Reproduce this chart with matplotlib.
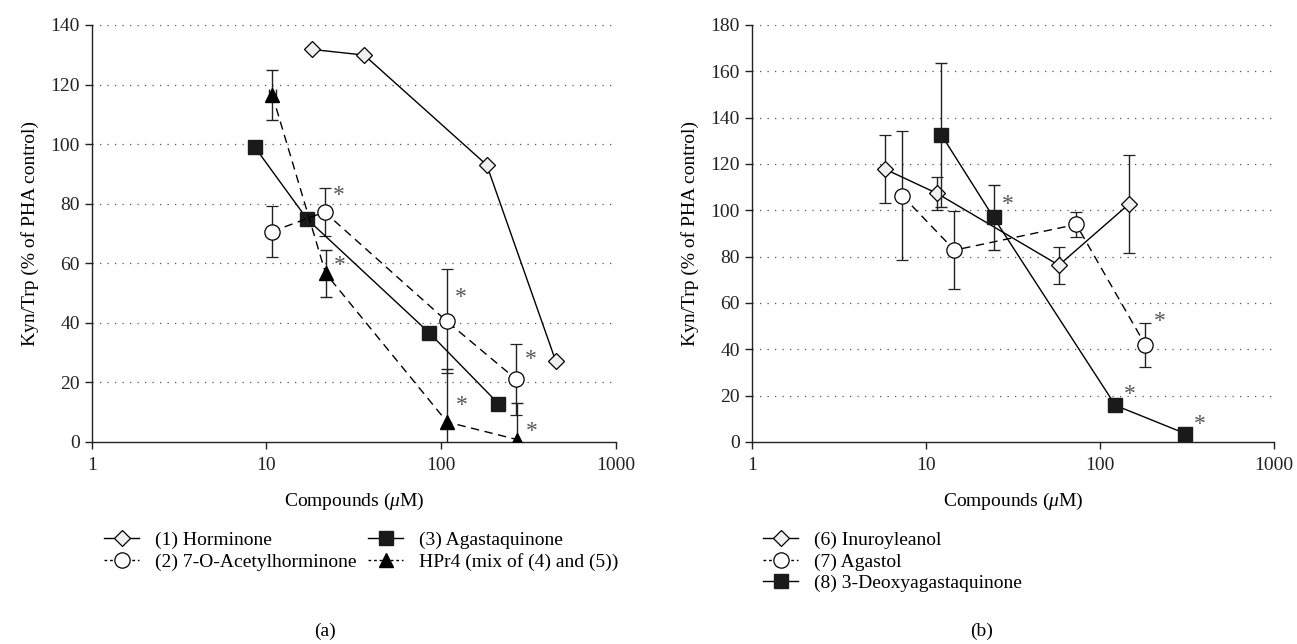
import matplotlib

matplotlib.use("Agg")
import matplotlib.pyplot as plt
from matplotlib.lines import Line2D

plt.rcParams["font.family"] = ["Liberation Serif", "DejaVu Serif"]
plt.rcParams["mathtext.fontset"] = "custom"
plt.rcParams["mathtext.rm"] = "Liberation Serif"
plt.rcParams["mathtext.it"] = "Liberation Serif:italic"

# ---- panel (a) ----
horm_x = [18.2, 36.2, 182, 452]
horm_y = [131.8, 129.9, 93.0, 27.1]

acet_x = [10.7, 21.5, 107.7, 268.7]
acet_y = [70.6, 77.2, 40.5, 21.0]
acet_err = [8.5, 8.0, 17.5, 12.0]
acet_xerr = [0.5, 0, 0, 0]
acet_star = [None, 85.0, 51.0, 30.0]

agas_x = [8.57, 17.1, 85.5, 212]
agas_y = [99.0, 74.8, 36.6, 12.9]

hpr_x = [10.8, 21.8, 108, 272]
hpr_y = [116.5, 56.6, 6.7, 0.8]
hpr_err = [8.5, 8.0, 17.8, 12.2]
hpr_xerr = [0.5, 0, 0, 0]
hpr_star = [None, 61.5, 14.5, 6.0]

# ---- panel (b) ----
inur_x = [5.82, 11.6, 58.1, 146.8]
inur_y = [117.8, 107.3, 76.3, 102.7]
inur_err = [14.8, 7.2, 8.0, 21.2]

agol_x = [7.32, 14.6, 73.1, 182.5]
agol_y = [106.3, 82.8, 93.9, 41.8]
agol_err = [27.8, 16.7, 5.3, 9.5]
agol_star = [None, None, None, 55.0]

deox_x = [12.3, 24.5, 122.7, 310]
deox_y = [132.5, 96.9, 15.8, 3.6]
deox_err = [31.0, 14.2, 0, 0]
deox_star = [None, 105.5, 23.5, 10.5]

FS = 14
STAR = "#555555"

fig = plt.figure(figsize=(12.97, 6.44), dpi=100)
ax_a = fig.add_axes([0.0707, 0.3137, 0.4043, 0.6475])
ax_b = fig.add_axes([0.5796, 0.3137, 0.4027, 0.6475])

diamond = dict(marker="D", markersize=8, markerfacecolor="#f0f0f0", markeredgecolor="black", markeredgewidth=0.9)
circle = dict(marker="o", markersize=11, markerfacecolor="white", markeredgecolor="black", markeredgewidth=0.9)
square = dict(marker="s", markersize=9.5, markerfacecolor="#1a1a1a", markeredgecolor="#1a1a1a")
triangle = dict(marker="^", markersize=10.5, markerfacecolor="black", markeredgecolor="black")
ebkw = dict(ecolor="#222222", elinewidth=1.0, capsize=4, capthick=1.0)
dashed = (0, (6, 4))


def add_stars(ax, xs, ys):
    for x, y in zip(xs, ys):
        if y is None:
            continue
        ax.annotate("*", (x, y), xytext=(6, -5), textcoords="offset points", fontsize=17, color=STAR, ha="left", va="center")


def style_axes(ax, ymax):
    ax.set_xscale("log")
    ax.set_xlim(1, 1000)
    ax.set_ylim(0, ymax)
    ax.set_xticks([1, 10, 100, 1000])
    ax.set_xticklabels(["1", "10", "100", "1000"])
    ax.minorticks_off()
    ax.set_yticks(range(0, ymax + 1, 20))
    for y in range(20, ymax + 1, 20):
        ax.axhline(y, color="#555555", linestyle=(0, (1, 5)), linewidth=0.9, zorder=0)
    for s in ["top", "right"]:
        ax.spines[s].set_visible(False)
    for s in ["left", "bottom"]:
        ax.spines[s].set_color("#222222")
        ax.spines[s].set_linewidth(1.0)
    ax.tick_params(direction="out", length=5, width=1.0, labelsize=FS, colors="#222222")
    ax.tick_params(axis="x", pad=6)
    ax.set_xlabel(r"Compounds ($\mu$M)", fontsize=FS, labelpad=12)
    ax.set_ylabel("Kyn/Trp (% of PHA control)", fontsize=FS, labelpad=8)


# panel (a)
ax = ax_a
ax.plot(horm_x, horm_y, color="black", linewidth=1.0, zorder=3, **diamond)
ax.errorbar(acet_x, acet_y, yerr=acet_err, xerr=acet_xerr, color="black", linewidth=1.0, linestyle=dashed, zorder=3, **ebkw, **circle)
ax.plot(agas_x, agas_y, color="black", linewidth=1.0, zorder=3, **square)
ax.errorbar(hpr_x, hpr_y, yerr=hpr_err, xerr=hpr_xerr, color="black", linewidth=1.0, linestyle=dashed, zorder=3, **ebkw, **triangle)
add_stars(ax, acet_x, acet_star)
add_stars(ax, hpr_x, hpr_star)
style_axes(ax, 140)

handles_a = [
    Line2D([], [], color="black", linewidth=1.0, **diamond),
    Line2D([], [], color="black", linewidth=1.0, linestyle=(0, (2, 2)), **circle),
    Line2D([], [], color="black", linewidth=1.0, **square),
    Line2D([], [], color="black", linewidth=1.0, linestyle=(0, (2, 2)), **triangle),
]
labels_a = ["(1) Horminone", "(2) 7-O-Acetylhorminone", "(3) Agastaquinone", "HPr4 (mix of (4) and (5))"]
fig.legend(handles_a, labels_a, ncol=2, loc="upper left", bbox_to_anchor=(0.073, 0.19), frameon=False,
           fontsize=FS, handlelength=1.8, handletextpad=0.8, columnspacing=0.6, labelspacing=0.2, borderpad=0)

# panel (b)
ax = ax_b
ax.errorbar(inur_x, inur_y, yerr=inur_err, color="black", linewidth=1.0, zorder=3, **ebkw, **diamond)
ax.errorbar(agol_x, agol_y, yerr=agol_err, color="black", linewidth=1.0, linestyle=dashed, zorder=3, **ebkw, **circle)
ax.errorbar(deox_x, deox_y, yerr=deox_err, color="black", linewidth=1.0, zorder=4, **ebkw, **square)
add_stars(ax, agol_x, agol_star)
add_stars(ax, deox_x, deox_star)
style_axes(ax, 180)

handles_b = [
    Line2D([], [], color="black", linewidth=1.0, **diamond),
    Line2D([], [], color="black", linewidth=1.0, linestyle=(0, (2, 2)), **circle),
    Line2D([], [], color="black", linewidth=1.0, **square),
]
labels_b = ["(6) Inuroyleanol", "(7) Agastol", "(8) 3-Deoxyagastaquinone"]
fig.legend(handles_b, labels_b, ncol=1, loc="upper left", bbox_to_anchor=(0.581, 0.19), frameon=False,
           fontsize=FS, handlelength=1.8, handletextpad=0.8, labelspacing=0.2, borderpad=0)

fig.text(0.2506, 0.006, "(a)", ha="center", va="bottom", fontsize=FS)
fig.text(0.7570, 0.006, "(b)", ha="center", va="bottom", fontsize=FS)

fig.savefig("out.png", dpi=100)
